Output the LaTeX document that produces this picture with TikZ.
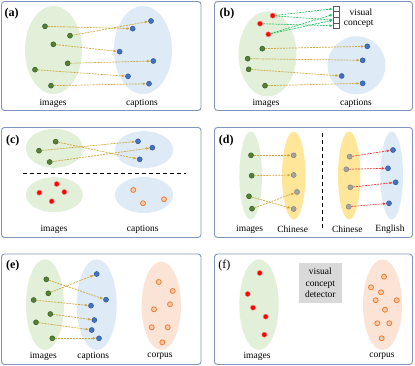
\documentclass[tikz,border=0pt]{standalone}
\usepackage{fontspec}
\setmainfont{Liberation Serif}
\usetikzlibrary{shapes.geometric,arrows.meta}
\definecolor{panelc}{HTML}{7F95BF}
\definecolor{gfill}{HTML}{E2EFD9}
\definecolor{bfill}{HTML}{DEEAF6}
\definecolor{yfill}{HTML}{FFE699}
\definecolor{ofill}{HTML}{FBE4D5}
\definecolor{gdotc}{HTML}{548235}
\definecolor{gdotd}{HTML}{385723}
\definecolor{bdotc}{HTML}{4472C4}
\definecolor{bdotd}{HTML}{2F5597}
\definecolor{rdotc}{HTML}{FF0000}
\definecolor{rdotd}{HTML}{FF6B6B}
\definecolor{sdotc}{HTML}{A5A5A5}
\definecolor{sdotd}{HTML}{7F7F7F}
\definecolor{odotc}{HTML}{F8CBAD}
\definecolor{odotd}{HTML}{ED7D31}
\definecolor{arrc}{HTML}{CFA53A}
\definecolor{garrc}{HTML}{2EBF62}
\definecolor{rarrc}{HTML}{FF3B3B}
\definecolor{boxc}{HTML}{D9D9D9}
\tikzset{
  panel/.style={draw=panelc,line width=0.9pt,rounded corners=3pt},
  ell/.style={ellipse,draw=none,inner sep=0pt},
  gell/.style={ell,fill=gfill},
  bell/.style={ell,fill=bfill},
  yell/.style={ell,fill=yfill},
  oell/.style={ell,fill=ofill},
  dot/.style={circle,inner sep=0pt,minimum size=5pt,line width=0.5pt},
  gdot/.style={dot,fill=gdotc,draw=gdotd},
  bdot/.style={dot,fill=bdotc,draw=bdotd},
  rdot/.style={dot,fill=rdotc,draw=rdotd},
  sdot/.style={dot,fill=sdotc,draw=sdotd},
  odot/.style={dot,fill=odotc,draw=odotd,line width=0.8pt},
  arr/.style={draw=arrc,dash pattern=on 2pt off 1pt,line width=0.7pt,-{Latex[length=3.2pt,width=2.8pt]},shorten >=0.2pt},
  garr/.style={arr,draw=garrc},
  rarr/.style={arr,draw=rarrc},
  lbl/.style={font=\fontsize{9.5}{11}\selectfont,inner sep=0pt},
  tag/.style={font=\fontsize{12}{14}\selectfont\bfseries,inner sep=0pt},
  cell/.style={draw=black!65,line width=0.5pt,minimum width=6pt,minimum height=5.65pt,inner sep=0pt,fill=white},
  detbox/.style={fill=boxc,minimum width=43.3pt,minimum height=40.6pt,inner sep=0pt,align=center,font=\fontsize{9.5}{11.3}\selectfont}
}
\begin{document}
\begin{tikzpicture}[x=1pt,y=-1pt]
\useasboundingbox (0,0) rectangle (415,366);
% panels
\draw[panel] (1.5,1.5) rectangle (201,110.5);
\draw[panel] (214.5,1.5) rectangle (412.5,110.5);
\draw[panel] (1.5,127.5) rectangle (201,237.5);
\draw[panel] (214.5,127.5) rectangle (412.5,237.5);
\draw[panel] (1.5,254) rectangle (201,364.5);
\draw[panel] (214.5,254) rectangle (412.5,364.5);

% ---------- (a)
\node[tag] (ta) at (11.7,13.3) {(a)};
\node[gell,minimum width=57pt,minimum height=88pt] (aG) at (53.5,50) {};
\node[bell,minimum width=58pt,minimum height=88pt] (aB) at (143,50) {};
\node[lbl] (al1) at (53,103) {images};
\node[lbl] (al2) at (142,103) {captions};
\node[gdot] (ag1) at (45,26.3) {};
\node[gdot] (ag2) at (70,35.7) {};
\node[gdot] (ag3) at (53.3,44.3) {};
\node[gdot] (ag4) at (67.7,63.3) {};
\node[gdot] (ag5) at (35,69.7) {};
\node[gdot] (ag6) at (51,85.7) {};
\node[bdot] (ab1) at (132.7,28.7) {};
\node[bdot] (ab2) at (151,21) {};
\node[bdot] (ab3) at (119.7,51.7) {};
\node[bdot] (ab4) at (153.3,61) {};
\node[bdot] (ab5) at (128,76.3) {};
\node[bdot] (ab6) at (149,83.7) {};
\foreach \i in {1,...,6} \draw[arr] (ag\i) -- (ab\i);

% ---------- (b)
\node[tag] (tb) at (227,13.3) {(b)};
\node[gell,minimum width=58pt,minimum height=85pt] (bG) at (267.5,54) {};
\node[bell,minimum width=58pt,minimum height=58pt] (bB) at (356.5,65.3) {};
\node[lbl] (bl1) at (266,103) {images};
\node[lbl] (bl2) at (356,103) {captions};
\node[cell] (bc1) at (336.3,8.8) {};
\node[cell] (bc2) at (336.3,14.45) {};
\node[cell] (bc3) at (336.3,20.1) {};
\node[cell] (bc4) at (336.3,25.75) {};
\node[lbl] (bv1) at (361,12.7) {visual};
\node[lbl] (bv2) at (358.7,24) {concept};
\node[rdot] (br1) at (272.7,15.7) {};
\node[rdot] (br2) at (260,23.7) {};
\node[rdot] (br3) at (268.3,34.3) {};
\draw[garr] (br1) -- (bc1.west);
\draw[garr] (br1) -- (bc3.west);
\draw[garr] (br2) -- (bc4.west);
\draw[garr] (br3) -- (bc2.west);
\draw[garr] (br3) -- (bc3.west);
\node[gdot] (bg1) at (262.3,48.7) {};
\node[gdot] (bg2) at (247.7,58.7) {};
\node[gdot] (bg3) at (248.7,69.3) {};
\node[gdot] (bg4) at (265,85.7) {};
\node[bdot] (bb1) at (367.3,46.3) {};
\node[bdot] (bb2) at (362.7,60.3) {};
\node[bdot] (bb3) at (341.7,76) {};
\node[bdot] (bb4) at (362.7,83.3) {};
\foreach \i in {1,...,4} \draw[arr] (bg\i) -- (bb\i);

% ---------- (c)
\node[tag] (tc) at (12.7,140.7) {(c)};
\node[gell,minimum width=57pt,minimum height=39pt] (cG1) at (54.3,148.3) {};
\node[bell,minimum width=58pt,minimum height=37pt] (cB1) at (144,149.7) {};
\node[gell,minimum width=57pt,minimum height=35pt] (cG2) at (54.3,194.7) {};
\node[bell,minimum width=58pt,minimum height=36pt] (cB2) at (144,195) {};
\coordinate (cd1) at (22.7,173);
\coordinate (cd2) at (186,173);
\draw[black,line width=0.8pt,dash pattern=on 4.5pt off 2.5pt] (cd1) -- (cd2);
\node[lbl] (cl1) at (54,229.3) {images};
\node[lbl] (cl2) at (142.7,229.3) {captions};
\node[gdot] (cg1) at (55.7,141.7) {};
\node[gdot] (cg2) at (39,150.7) {};
\node[gdot] (cg3) at (49.7,162) {};
\node[bdot] (cb1) at (138,141.3) {};
\node[bdot] (cb2) at (152.3,147.7) {};
\node[bdot] (cb3) at (139.7,159.3) {};
\draw[arr] (cg2) -- (cb1);
\draw[arr] (cg3) -- (cb2);
\draw[arr] (cg1) -- (cb3);
\node[rdot] (cr1) at (56.7,184) {};
\node[rdot] (cr2) at (39.3,192.7) {};
\node[rdot] (cr3) at (64.3,192) {};
\node[rdot] (cr4) at (51.7,201.3) {};
\node[odot] (co1) at (133.3,190) {};
\node[odot] (co2) at (143,203.3) {};
\node[odot] (co3) at (164,199.3) {};

% ---------- (d)
\node[tag] (td) at (226.3,140.7) {(d)};
\node[gell,minimum width=22.6pt,minimum height=88pt] (dG) at (250.7,175.5) {};
\node[yell,minimum width=23.4pt,minimum height=88pt] (dY1) at (293.7,175.5) {};
\node[yell,minimum width=22.4pt,minimum height=88pt] (dY2) at (349.2,175.5) {};
\node[bell,minimum width=22.6pt,minimum height=88pt] (dB) at (391.7,175.5) {};
\coordinate (dd1) at (322.3,133);
\coordinate (dd2) at (322.3,229);
\draw[black,line width=0.8pt,dash pattern=on 4.5pt off 2.5pt] (dd1) -- (dd2);
\node[lbl] (dl1) at (249.7,229) {images};
\node[lbl] (dl2) at (292.7,229) {Chinese};
\node[lbl] (dl3) at (347.3,229) {Chinese};
\node[lbl] (dl4) at (390,229) {English};
\node[gdot] (dg1) at (251,155.3) {};
\node[gdot] (dg2) at (251.7,175.7) {};
\node[gdot] (dg3) at (249,196.3) {};
\node[gdot] (dg4) at (252,208.7) {};
\node[sdot] (ds1) at (293.7,155.3) {};
\node[sdot] (ds2) at (293.7,175) {};
\node[sdot] (ds3) at (297,192) {};
\node[sdot] (ds4) at (293.7,209) {};
\draw[arr] (dg1) -- (ds1);
\draw[arr] (dg2) -- (ds2);
\draw[arr] (dg3) -- (ds4);
\draw[arr] (dg4) -- (ds3);
\node[sdot] (dt1) at (349.7,156.7) {};
\node[sdot] (dt2) at (346.3,169.3) {};
\node[sdot] (dt3) at (350.3,187.3) {};
\node[sdot] (dt4) at (348.7,206.7) {};
\node[bdot] (db1) at (393,150) {};
\node[bdot] (db2) at (388,168.3) {};
\node[bdot] (db3) at (395.7,182.3) {};
\node[bdot] (db4) at (389,203.3) {};
\foreach \i in {1,...,4} \draw[rarr] (dt\i) -- (db\i);

% ---------- (e)
\node[tag] (te) at (12.7,266) {(e)};
\node[gell,minimum width=38pt,minimum height=90.7pt] (eG) at (45,304.7) {};
\node[bell,minimum width=40pt,minimum height=90.7pt] (eB) at (96.7,304.7) {};
\node[oell,minimum width=39.3pt,minimum height=88.3pt] (eO) at (161.3,305.8) {};
\node[lbl] (el1) at (43.3,356.5) {images};
\node[lbl] (el2) at (93.3,356.5) {captions};
\node[lbl] (el3) at (160,356.5) {corpus};
\node[gdot] (eg1) at (46.3,279.3) {};
\node[gdot] (eg2) at (48.3,293.3) {};
\node[gdot] (eg3) at (33.7,300) {};
\node[gdot] (eg4) at (50.3,314) {};
\node[gdot] (eg5) at (36,322.3) {};
\node[gdot] (eg6) at (52.3,338.3) {};
\node[bdot] (eb1) at (106,299.7) {};
\node[bdot] (eb2) at (96.7,274) {};
\node[bdot] (eb3) at (91,305.7) {};
\node[bdot] (eb4) at (94.3,320) {};
\node[bdot] (eb5) at (91.7,330) {};
\node[bdot] (eb6) at (99,338.3) {};
\foreach \i in {1,...,6} \draw[arr] (eg\i) -- (eb\i);
\node[odot] (eo1) at (158.7,282) {};
\node[odot] (eo2) at (172.7,291) {};
\node[odot] (eo3) at (170,304.3) {};
\node[odot] (eo4) at (154,309.3) {};
\node[odot] (eo5) at (151.7,327.3) {};
\node[odot] (eo6) at (167.7,327.3) {};
\node[odot] (eo7) at (162.3,342.3) {};

% ---------- (f)
\node[font=\fontsize{12}{14}\selectfont,inner sep=0pt] (tf) at (224.3,266) {(f)};
\node[gell,minimum width=39.4pt,minimum height=90.7pt] (fG) at (259,304.7) {};
\node[oell,minimum width=39pt,minimum height=90.7pt] (fO) at (382.5,304.7) {};
\node[detbox] (fD) at (320.3,283) {visual\\concept\\detector};
\node[lbl] (fl1) at (257,356.5) {images};
\node[lbl] (fl2) at (382,356.5) {corpus};
\node[rdot] (fr1) at (259.7,273) {};
\node[rdot] (fr2) at (247.7,294) {};
\node[rdot] (fr3) at (253,307.7) {};
\node[rdot] (fr4) at (265.7,316.7) {};
\node[rdot] (fr5) at (264.3,334.7) {};
\node[odot] (fo1) at (384,276.7) {};
\node[odot] (fo2) at (371,287.3) {};
\node[odot] (fo3) at (381,292.3) {};
\node[odot] (fo4) at (375.7,300.3) {};
\node[odot] (fo5) at (396.7,300.3) {};
\node[odot] (fo6) at (385,309.7) {};
\node[odot] (fo7) at (377.3,323.3) {};
\node[odot] (fo8) at (389.3,323.3) {};
\node[odot] (fo9) at (381.7,338.3) {};
\end{tikzpicture}
\end{document}
